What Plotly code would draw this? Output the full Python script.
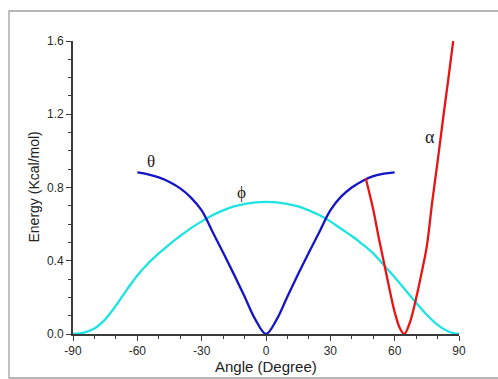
import plotly.graph_objects as go

# phi (cyan)
phi_x = [-90, -85, -80, -75, -70, -65, -60, -55, -50, -45, -40, -35, -30, -25, -20, -15, -10, -5, 0,
         5, 10, 15, 20, 25, 30, 35, 40, 45, 50, 55, 60, 65, 70, 75, 80, 85, 90]
phi_y = [0.0, 0.008, 0.03, 0.08, 0.155, 0.24, 0.32, 0.385, 0.44, 0.49, 0.535, 0.578, 0.615, 0.648, 0.675,
         0.697, 0.71, 0.719, 0.722, 0.719, 0.71, 0.697, 0.675, 0.648, 0.615, 0.575, 0.535, 0.49, 0.44,
         0.375, 0.31, 0.24, 0.17, 0.105, 0.05, 0.014, 0.0]

# theta (blue)
theta_x = [-60, -55, -50, -45, -40, -35, -30, -25, -20, -15, -10, -5, 0,
           5, 10, 15, 20, 25, 30, 35, 40, 45, 50, 55, 60]
theta_y = [0.883, 0.872, 0.855, 0.83, 0.795, 0.745, 0.675, 0.56, 0.445, 0.327, 0.205, 0.08, 0.0,
           0.08, 0.205, 0.327, 0.445, 0.56, 0.675, 0.75, 0.80, 0.836, 0.862, 0.876, 0.883]

# alpha (red)
alpha_x = [46.5, 50, 52.5, 55, 57.5, 60, 62.5, 64.5, 67, 70, 72.5, 75, 77.5, 80, 82.5, 85, 87.3]
alpha_y = [0.85, 0.68, 0.53, 0.39, 0.25, 0.12, 0.03, 0.0, 0.06, 0.195, 0.33, 0.48, 0.72, 0.94, 1.17, 1.39, 1.60]

x_ticks = [-90, -60, -30, 0, 30, 60, 90]
y_ticks = [0.0, 0.4, 0.8, 1.2, 1.6]

fig = go.Figure()
fig.add_trace(go.Scatter(x=phi_x, y=phi_y, mode="lines", line=dict(color="#1ee3e3", width=2.3, shape="spline"),
                         showlegend=False, hoverinfo="skip"))
fig.add_trace(go.Scatter(x=theta_x, y=theta_y, mode="lines", line=dict(color="#1414c8", width=2.3, shape="spline"),
                         showlegend=False, hoverinfo="skip"))
fig.add_trace(go.Scatter(x=alpha_x, y=alpha_y, mode="lines", line=dict(color="#e81414", width=2.3, shape="spline"),
                         showlegend=False, hoverinfo="skip"))

axis_font = dict(family="Liberation Sans, Arial, sans-serif", size=12, color="#2a2a2a")

fig.update_layout(
    width=498, height=379,
    margin=dict(l=73, r=39, t=41, b=45),
    paper_bgcolor="white", plot_bgcolor="white",
    xaxis=dict(range=[-90, 90], tickvals=x_ticks, ticktext=[str(v) for v in x_ticks],
               showgrid=False, zeroline=False, showline=True, linecolor="#3a3a3a", linewidth=1.6,
               ticks="outside", ticklen=5, tickwidth=1.3, tickcolor="#3a3a3a", tickfont=axis_font,
               minor=dict(dtick=10, ticks="outside", ticklen=3, tickwidth=1.2, tickcolor="#3a3a3a", showgrid=False)),
    yaxis=dict(range=[0, 1.6], tickvals=y_ticks, ticktext=["%.1f" % v for v in y_ticks],
               showgrid=False, zeroline=False, showline=True, linecolor="#3a3a3a", linewidth=1.6,
               ticks="outside", ticklen=5, tickwidth=1.3, tickcolor="#3a3a3a", tickfont=axis_font,
               minor=dict(dtick=0.1, ticks="outside", ticklen=3, tickwidth=1.2, tickcolor="#3a3a3a", showgrid=False)),
    shapes=[dict(type="rect", xref="paper", yref="paper",
                 x0=(9 - 73) / 386, x1=(505 - 73) / 386,
                 y0=(334 - 378) / 293, y1=(334 - 11) / 293,
                 line=dict(color="#a0a0a0", width=1.3), fillcolor="rgba(0,0,0,0)", layer="below")],
    annotations=[
        dict(text="Energy (Kcal/mol)", xref="paper", yref="paper", x=(33 - 73) / 386, y=0.5,
             textangle=-90, showarrow=False, xanchor="center", yanchor="middle",
             font=dict(family="Liberation Sans, Arial, sans-serif", size=14, color="#222222")),
        dict(text="Angle (Degree)", xref="paper", yref="paper", x=0.5, y=(334 - 366) / 293,
             showarrow=False, xanchor="center", yanchor="middle",
             font=dict(family="Liberation Sans, Arial, sans-serif", size=15, color="#222222")),
        dict(text="θ", x=-53.6, y=0.94, xref="x", yref="y", showarrow=False,
             font=dict(family="Liberation Serif, Times New Roman, serif", size=17, color="#222222")),
        dict(text="ϕ", x=-11.2, y=0.775, xref="x", yref="y", showarrow=False,
             font=dict(family="Liberation Serif, Times New Roman, serif", size=17, color="#222222")),
        dict(text="α", x=76.7, y=1.076, xref="x", yref="y", showarrow=False,
             font=dict(family="Liberation Serif, Times New Roman, serif", size=18, color="#222222")),
    ],
)

fig.write_html("out.html", config={"displayModeBar": False},
               post_script="document.body.style.margin='0';document.body.style.overflow='hidden';")
